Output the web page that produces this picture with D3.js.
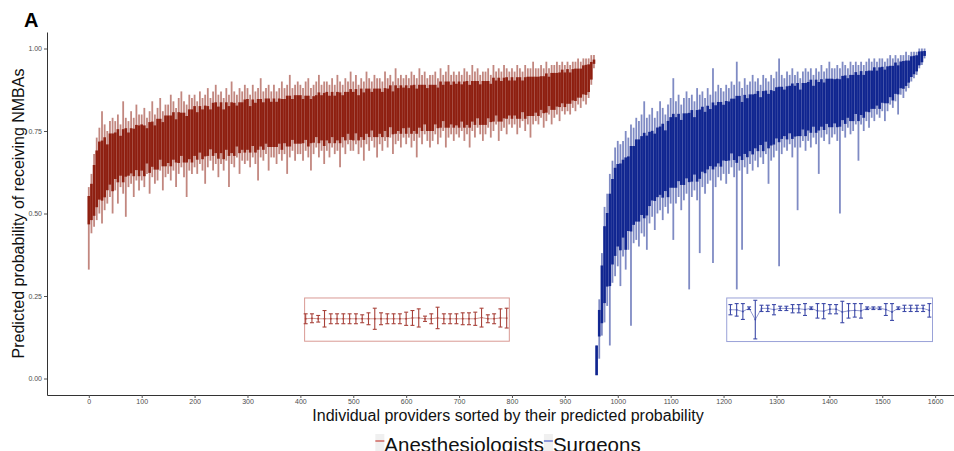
<!DOCTYPE html>
<html>
<head>
<meta charset="utf-8">
<script src="https://cdn.jsdelivr.net/npm/d3@7"></script>
<style>
  body { margin: 0; background: #fff; }
  text { font-family: "Liberation Sans", Arial, sans-serif; }
</style>
</head>
<body>
<div id="chart"></div>
<script>
// interval bounds in percent, one entry for every 5th provider (sorted by predicted probability)
const anesLo = [33,44,46,48,50,47,51,53,55,50, 57,53,58,56,49,58,59,55,60,57, 60,58,62,56,61,59,60,63,57,61,
  62,60,63,58,62,64,61,55,63,62, 64,62,65,63,59,64,66,63,65,61, 65,63,66,58,65,64,67,62,66,65,
  66,64,67,65,60,67,66,68,63,67, 67,65,68,66,68,62,67,69,66,68, 68,66,69,67,63,68,70,67,69,65,
  69,67,70,68,69,64,70,68,71,69, 69,71,68,70,66,71,69,72,70,67, 71,69,72,70,73,68,71,72,70,73,
  71,73,70,72,67,73,71,74,72,70, 72,74,71,73,75,70,73,74,72,74, 73,75,72,74,70,75,73,76,74,72,
  74,76,73,75,77,72,75,76,74,77, 76,77,74,76,78,75,77,73,77,78, 77,79,76,78,80,77,79,80,78,81,
  80,81,80,82,81,83,82,84,83,85, 89,94]
const anesHi = [58,62,68,73,76,81,77,75,78,79, 78,80,77,84,79,78,81,79,83,80, 80,82,79,81,84,80,82,85,81,83,
  83,86,84,82,85,87,84,83,86,85, 86,84,87,85,86,88,85,87,89,86, 87,85,88,86,90,87,86,88,87,89,
  88,86,89,87,88,91,87,88,89,87, 89,87,88,90,88,89,92,88,89,90, 89,88,90,91,88,89,90,92,89,90,
  90,89,91,89,92,90,89,91,90,93, 90,92,89,91,90,93,91,90,92,91, 91,90,93,91,92,90,94,91,92,91,
  92,91,93,92,91,94,92,93,91,92, 92,93,91,94,92,93,95,92,93,92, 93,92,94,93,92,95,93,94,92,93,
  93,94,92,95,93,94,93,95,94,93, 94,93,95,94,93,95,94,94,96,94, 94,95,94,96,94,95,95,96,95,96,
  95,96,95,96,96,97,96,97,97,97, 98,98]
const surgLo = [1,6,13,17,22,10,29,31,34,28, 37,33,39,16,41,42,40,44,43,39, 47,49,45,50,51,48,52,50,53,42,
  53,55,51,54,56,27,55,57,54,38, 58,56,59,60,35,58,61,60,62,59, 62,64,61,27,63,39,64,62,65,63,
  66,64,67,65,68,59,66,67,69,34, 68,70,69,71,67,70,51,70,72,69, 72,70,73,71,62,73,72,74,71,73,
  74,72,50,75,73,76,74,75,77,66, 77,75,78,76,79,78,80,79,81,78, 81,83,82,84,80,86,85,87,88,90,
  91,92,94,95,97]
const surgHi = [10,24,38,52,56,62,66,70,72,71, 72,75,73,77,76,79,78,80,84,79, 80,82,79,81,84,82,80,83,85,91,
  84,86,83,85,87,85,86,84,88,86, 87,85,88,86,94,87,89,88,87,89, 88,90,89,96,90,88,91,89,90,92,
  90,91,89,92,91,90,92,91,93,97, 92,91,93,92,94,92,93,91,93,94, 93,94,92,94,93,95,93,94,96,94,
  94,95,94,96,95,94,96,95,96,95, 96,95,96,97,96,97,96,97,97,96, 97,98,97,98,97,98,98,99,98,99,
  99,99,100,100,100]
const anesFirst = 0
const surgFirst = 960
const rankStep = 5

// small boxed samples of intervals (probability units)
const redInsetHi = [.196,.196,.191,.206,.196,.196,.196,.196,.196,.193,.199,.213,.199,.196,.196,.196,.201,
  .206,.211,.189,.196,.216,.196,.196,.196,.199,.199,.201,.213,.193,.196,.211,.213]
const redInsetLo = [.166,.169,.171,.156,.166,.166,.166,.166,.166,.169,.163,.149,.163,.166,.166,.166,.161,
  .161,.156,.173,.166,.151,.166,.166,.166,.163,.163,.161,.156,.169,.166,.156,.153]
const blueInsetHi = [.224,.227,.227,.217,.237,.222,.222,.224,.219,.219,.224,.224,.227,.217,.227,.227,.224,
  .224,.234,.227,.227,.227,.217,.217,.217,.227,.227,.217,.222,.222,.222,.222,.227]
const blueInsetLo = [.193,.189,.179,.209,.120,.203,.203,.193,.206,.206,.199,.199,.191,.209,.183,.181,.196,
  .196,.169,.183,.186,.183,.209,.209,.209,.191,.176,.209,.203,.203,.203,.203,.186]
const redInsetSpan = [410, 790]
const blueInsetSpan = [1213, 1589]
const redInsetBox = [408, 795, 0.113, 0.244]
const blueInsetBox = [1206, 1595, 0.112, 0.244]

const xTicks = d3.range(0, 1601, 100)
const yTicks = [0, 0.25, 0.5, 0.75, 1]
const seriesNames = ['Anesthesiologists', 'Surgeons']

const W = 954, H = 451
const panel = {left: 47, top: 32, right: 969, bottom: 395}
const red = '#861000', blue = '#001789'
const redLight = '#c8453c', blueLight = '#4a5ccc'
const coreShrink = 0.15 // the dense part sits a little inside the local interval

const svg = d3.select('#chart').append('svg')
  .attr('width', W).attr('height', H)

const x = d3.scaleLinear().domain([-79, 1664]).range([panel.left, panel.right])
const y = d3.scaleLinear().domain([-0.05, 1.05]).range([panel.bottom, panel.top])

function toBars (lo, hi, first) {
  return lo.map((l, i) => {
    const a = Math.max(0, i - 2), b = i + 3
    const mLo = d3.median(lo.slice(a, b)) / 100
    const mHi = d3.median(hi.slice(a, b)) / 100
    const pad = coreShrink * Math.max(0, mHi - mLo)
    const d = {rank: first + i * rankStep, lo: l / 100, hi: hi[i] / 100}
    d.coreLo = Math.max(d.lo, mLo) + pad
    d.coreHi = Math.min(d.hi, mHi) - pad
    if (d.coreHi <= d.coreLo) { d.coreLo = d.lo; d.coreHi = d.hi }
    return d
  })
}

const series = [
  {name: seriesNames[0], color: red, bars: toBars(anesLo, anesHi, anesFirst)},
  {name: seriesNames[1], color: blue, bars: toBars(surgLo, surgHi, surgFirst)}
]

const plot = svg.append('g').attr('class', 'bars')
series.forEach(s => {
  const g = plot.append('g')
  g.selectAll('line.whisker')
    .data(s.bars)
    .enter().append('line')
    .attr('class', 'whisker')
    .attr('x1', d => x(d.rank)).attr('x2', d => x(d.rank))
    .attr('y1', d => y(d.lo)).attr('y2', d => y(d.hi))
    .attr('stroke', s.color).attr('stroke-width', 1.8).attr('stroke-opacity', 0.5)
  g.selectAll('line.core')
    .data(s.bars)
    .enter().append('line')
    .attr('class', 'core')
    .attr('x1', d => x(d.rank)).attr('x2', d => x(d.rank))
    .attr('y1', d => y(d.coreLo)).attr('y2', d => y(d.coreHi))
    .attr('stroke', s.color).attr('stroke-width', 2.7).attr('stroke-opacity', 0.88)
})

// inset samples
function drawInset (lo, hi, span, box, color, boxColor) {
  const g = svg.append('g')
  g.append('rect')
    .attr('x', x(box[0])).attr('y', y(box[3]))
    .attr('width', x(box[1]) - x(box[0])).attr('height', y(box[2]) - y(box[3]))
    .attr('fill', 'none').attr('stroke', boxColor).attr('stroke-width', 1)
  const xi = d3.scaleLinear().domain([0, lo.length - 1]).range([x(span[0]), x(span[1])])
  const pts = lo.map((l, i) => ({i: i, lo: l, hi: hi[i], mid: (l + hi[i]) / 2}))
  g.append('path')
    .datum(pts)
    .attr('d', d3.line().x(d => xi(d.i)).y(d => y(d.mid)))
    .attr('fill', 'none').attr('stroke', color).attr('stroke-width', 0.7).attr('stroke-opacity', 0.8)
  const b = g.selectAll('g.eb').data(pts).enter().append('g').attr('class', 'eb')
    .attr('stroke', color).attr('stroke-width', 1.1)
  b.append('line')
    .attr('x1', d => xi(d.i)).attr('x2', d => xi(d.i))
    .attr('y1', d => y(d.lo)).attr('y2', d => y(d.hi))
  b.append('line')
    .attr('x1', d => xi(d.i) - 2).attr('x2', d => xi(d.i) + 2)
    .attr('y1', d => y(d.lo)).attr('y2', d => y(d.lo))
  b.append('line')
    .attr('x1', d => xi(d.i) - 2).attr('x2', d => xi(d.i) + 2)
    .attr('y1', d => y(d.hi)).attr('y2', d => y(d.hi))
  b.append('circle')
    .attr('cx', d => xi(d.i)).attr('cy', d => y(d.mid)).attr('r', 0.9)
    .attr('fill', color).attr('stroke', 'none')
}
drawInset(redInsetLo, redInsetHi, redInsetSpan, redInsetBox, '#a8423a', '#d99a94')
drawInset(blueInsetLo, blueInsetHi, blueInsetSpan, blueInsetBox, '#3d4aa8', '#9aa2d8')

// axes
const xAxis = d3.axisBottom(x).tickValues(xTicks).tickFormat(d3.format('d'))
  .tickSize(3).tickSizeOuter(0).tickPadding(1)
const yAxis = d3.axisLeft(y).tickValues(yTicks).tickFormat(d3.format('.2f'))
  .tickSize(3).tickSizeOuter(0).tickPadding(2)

const gx = svg.append('g').attr('transform', 'translate(0,' + panel.bottom + ')').call(xAxis)
const gy = svg.append('g').attr('transform', 'translate(' + panel.left + ',0)').call(yAxis)
;[gx, gy].forEach(g => {
  g.select('.domain').attr('stroke', '#333').attr('stroke-width', 1)
  g.selectAll('.tick line').attr('stroke', '#555')
  g.selectAll('.tick text').attr('fill', '#4d4d4d').style('font-size', '7px')
    .style('font-family', '"Liberation Sans", Arial, sans-serif')
})

svg.append('text')
  .attr('x', (panel.left + panel.right) / 2).attr('y', 421)
  .attr('text-anchor', 'middle').attr('fill', '#111').style('font-size', '16px')
  .text('Individual providers sorted by their predicted probability')

svg.append('text')
  .attr('transform', 'translate(24,' + (panel.top + panel.bottom) / 2 + ') rotate(-90)')
  .attr('text-anchor', 'middle').attr('fill', '#111').style('font-size', '16px')
  .text('Predicted probability of receiving NMBAs')

svg.append('text')
  .attr('x', 24).attr('y', 27)
  .attr('font-weight', 'bold').style('font-size', '20px').attr('fill', '#000')
  .text('A')

// legend (its lower edge is cut by the picture, as in the source figure)
const legend = svg.append('g')
const keyW = 9
const items = seriesNames.map((n, i) => ({name: n, color: [redLight, blueLight][i]}))
let cursor = 0
items.forEach(it => {
  const g = legend.append('g').attr('transform', 'translate(' + cursor + ',0)')
  g.append('rect').attr('x', 0).attr('y', -7).attr('width', keyW).attr('height', 17).attr('fill', '#f0f0f0')
  g.append('line').attr('x1', 0).attr('x2', keyW).attr('y1', 0).attr('y2', 0)
    .attr('stroke', it.color).attr('stroke-width', 1.2)
  const t = g.append('text').attr('x', keyW).attr('y', 10.5)
    .style('font-size', '20.5px').attr('fill', '#111').text(it.name)
  cursor += keyW + t.node().getComputedTextLength()
})
legend.attr('transform', 'translate(' + ((panel.left + panel.right) / 2 - cursor / 2) + ',441)')
</script>
</body>
</html>
